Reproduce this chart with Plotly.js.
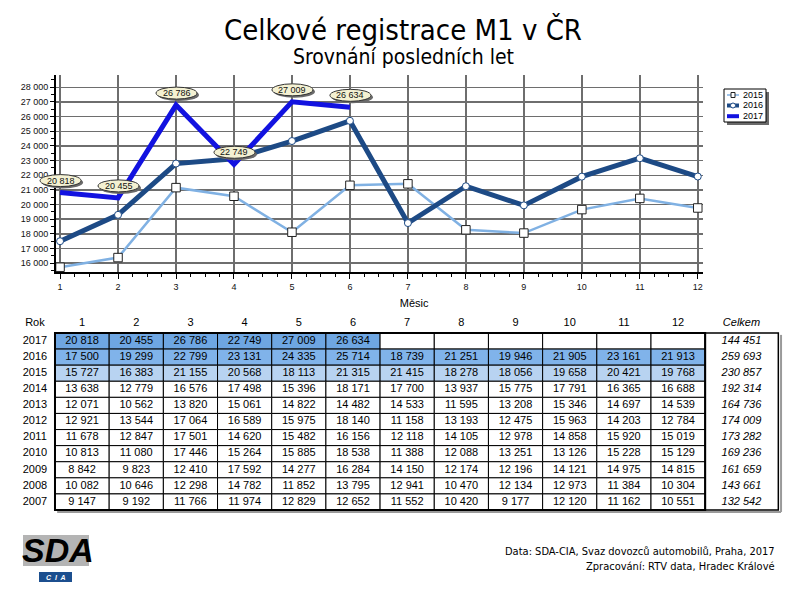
<!DOCTYPE html>
<html><head><meta charset="utf-8">
<script src="https://cdn.plot.ly/plotly-3.0.1.min.js"></script>
<style>html,body{margin:0;padding:0;background:#fff}#chart{width:800px;height:600px}</style>
</head><body><div id="chart"></div>
<script>
// ---------- DATA ----------
const months = [1,2,3,4,5,6,7,8,9,10,11,12];
const monthLabels = ['1','2','3','4','5','6','7','8','9','10','11','12'];
const years = [2017,2016,2015,2014,2013,2012,2011,2010,2009,2008,2007];
const seriesNames = ['2015','2016','2017'];
const v2017 = [20818,20455,26786,22749,27009,26634,null,null,null,null,null,null];
const v2016 = [17500,19299,22799,23131,24335,25714,18739,21251,19946,21905,23161,21913];
const v2015 = [15727,16383,21155,20568,18113,21315,21415,18278,18056,19658,20421,19768];
const v2014 = [13638,12779,16576,17498,15396,18171,17700,13937,15775,17791,16365,16688];
const v2013 = [12071,10562,13820,15061,14822,14482,14533,11595,13208,15346,14697,14539];
const v2012 = [12921,13544,17064,16589,15975,18140,11158,13193,12475,15963,14203,12784];
const v2011 = [11678,12847,17501,14620,15482,16156,12118,14105,12978,14858,15920,15019];
const v2010 = [10813,11080,17446,15264,15885,18538,11388,12088,13251,13126,15228,15129];
const v2009 = [8842,9823,12410,17592,14277,16284,14150,12174,12196,14121,14975,14815];
const v2008 = [10082,10646,12298,14782,11852,13795,12941,10470,12134,12973,11384,10304];
const v2007 = [9147,9192,11766,11974,12829,12652,11552,10420,9177,12120,11162,10551];
const totals = [144451,259693,230857,192314,164736,174009,173282,169236,161659,143661,132542];

// ---------- STYLE ----------
const SANS = 'Liberation Sans, Arial, sans-serif';
const NARROW = 'DejaVu Sans Condensed, Liberation Sans Narrow, sans-serif';
const rowFills = ['#6ea6e2', '#80b3ea', '#b8d3f1'];
const C2015 = '#80b1e3', C2016 = '#1d4a85', C2017 = '#1212e0';
const fmt = n => String(n).replace(/\B(?=(\d{3})+(?!\d))/g, ' ');
const rowsData = [v2017,v2016,v2015,v2014,v2013,v2012,v2011,v2010,v2009,v2008,v2007];

// main plot geometry (pixels) and an unclipped twin subplot with the identical scale
const PL = 56, PR = 703, XR0 = 0.93, XR1 = 12.09;
const YR = [15400, 28840];
const sx = (XR1 - XR0) / (PR - PL);
const x3range = [XR0 - PL * sx, XR0 + (800 - PL) * sx];

// ---------- CHART TRACES ----------
const traces = [
  {x: months, y: v2015, name: seriesNames[0], type: 'scatter', mode: 'lines+markers',
   line: {color: C2015, width: 2.5},
   marker: {symbol: 'square', size: 8.5, color: '#fff', line: {color: '#222', width: 1}},
   hoverinfo: 'skip', showlegend: false},
  {x: months, y: v2016, name: seriesNames[1], type: 'scatter', mode: 'lines+markers',
   line: {color: C2016, width: 5},
   marker: {symbol: 'circle', size: 7, color: '#fff', line: {color: C2016, width: 1}},
   hoverinfo: 'skip', showlegend: false},
  {x: months, y: v2017, name: seriesNames[2], type: 'scatter', mode: 'lines',
   line: {color: C2017, width: 5}, connectgaps: false, hoverinfo: 'skip', showlegend: false}
];

const shapes = [];
const annotations = [];

// ---------- 2017 value callouts (on twin subplot x3/y3 so they are not clipped) ----------
const lblX = [], lblY = [];
months.forEach((m, i) => {
  const v = v2017[i];
  if (v === null) return;
  shapes.push({type: 'circle', xref: 'x3', yref: 'y3', xsizemode: 'pixel', ysizemode: 'pixel',
    xanchor: m, yanchor: v, x0: -18, x1: 23, y0: 4, y1: 16, fillcolor: '#6a6a6a', line: {width: 0}});
  shapes.push({type: 'circle', xref: 'x3', yref: 'y3', xsizemode: 'pixel', ysizemode: 'pixel',
    xanchor: m, yanchor: v, x0: -20, x1: 21, y0: 6, y1: 18, fillcolor: '#f4f1d2', line: {color: '#333', width: 1}});
  annotations.push({x: m, y: v, xref: 'x3', yref: 'y3', text: fmt(v), showarrow: false, yshift: 12, xshift: 0.5,
    font: {family: SANS, size: 9, color: '#111'}});
  lblX.push(m); lblY.push(v);
});
traces.push({x: lblX, y: lblY, xaxis: 'x3', yaxis: 'y3', type: 'scatter', mode: 'markers',
  marker: {opacity: 0}, showlegend: false, hoverinfo: 'skip'});

// ---------- TABLE (on hidden axes x2/y2) ----------
const cellX = [], cellY = [], cellT = [];
rowsData.forEach((row, r) => {
  months.forEach((m, i) => {
    const has = row[i] !== null;
    shapes.push({type: 'rect', xref: 'x2', yref: 'y2', x0: m - 0.5, x1: m + 0.5, y0: r - 0.5, y1: r + 0.5,
      line: {color: '#000', width: 1}, fillcolor: (has && r < 3) ? rowFills[r] : '#ffffff', layer: 'below'});
    if (has) { cellX.push(m); cellY.push(r); cellT.push(fmt(row[i])); }
  });
});
shapes.push({type: 'line', xref: 'x2', yref: 'y2', x0: 13.9, x1: 13.9, y0: -0.38, y1: 10.62, line: {color: '#9a9a9a', width: 2}, layer: 'below'});
shapes.push({type: 'line', xref: 'x2', yref: 'y2', x0: 0.54, x1: 13.9, y0: 10.62, y1: 10.62, line: {color: '#9a9a9a', width: 2}, layer: 'below'});
shapes.push({type: 'rect', xref: 'x2', yref: 'y2', x0: 12.5, x1: 13.85, y0: -0.5, y1: 10.5, line: {color: '#000', width: 1.5}, fillcolor: '#fff', layer: 'below'});
shapes.push({type: 'rect', xref: 'x2', yref: 'y2', x0: 0.5, x1: 12.5, y0: -0.5, y1: 10.5, line: {color: '#000', width: 2}, layer: 'below'});

const tf = {family: SANS, size: 11, color: '#000'};
traces.push({x: cellX, y: cellY, text: cellT, xaxis: 'x2', yaxis: 'y2', type: 'scatter', mode: 'text',
  textfont: tf, showlegend: false, hoverinfo: 'skip'});
traces.push({x: years.map(() => 0.13), y: years.map((_, r) => r), text: years.map(String), xaxis: 'x2', yaxis: 'y2',
  type: 'scatter', mode: 'text', textfont: tf, showlegend: false, hoverinfo: 'skip'});
traces.push({x: totals.map(() => 13.17), y: totals.map((_, r) => r), text: totals.map(t => '<i>' + fmt(t) + '</i>'),
  xaxis: 'x2', yaxis: 'y2', type: 'scatter', mode: 'text', textfont: tf, showlegend: false, hoverinfo: 'skip'});
traces.push({x: [0.13].concat(months, [13.17]), y: Array(14).fill(-1.1),
  text: ['Rok'].concat(monthLabels, ['<i>Celkem</i>']), xaxis: 'x2', yaxis: 'y2', type: 'scatter', mode: 'text',
  textfont: tf, showlegend: false, hoverinfo: 'skip'});
traces.push({x: [7.13], y: [-2.3], text: ['Měsic'], xaxis: 'x2', yaxis: 'y2', type: 'scatter', mode: 'text',
  textfont: tf, showlegend: false, hoverinfo: 'skip'});

// ---------- custom compact legend (paper coords) ----------
const px = v => v / 800, py = v => 1 - v / 600;
shapes.push({type: 'rect', xref: 'paper', yref: 'paper', x0: px(727), x1: px(769), y0: py(125), y1: py(92), fillcolor: '#6a6a6a', line: {width: 0}});
shapes.push({type: 'rect', xref: 'paper', yref: 'paper', x0: px(724), x1: px(766), y0: py(122), y1: py(89), fillcolor: '#fff', line: {color: '#000', width: 1}});
const legY = [95, 105.5, 116.2];
const legColors = [C2015, C2016, C2017];
const legWidths = [1.5, 4, 4];
seriesNames.forEach((n, k) => {
  shapes.push({type: 'line', xref: 'paper', yref: 'paper', x0: px(727), x1: px(739), y0: py(legY[k]), y1: py(legY[k]),
    line: {color: legColors[k], width: legWidths[k]}});
  annotations.push({xref: 'paper', yref: 'paper', x: px(741), y: py(legY[k]), text: n, showarrow: false,
    xanchor: 'left', yanchor: 'middle', font: {family: SANS, size: 9, color: '#000'}});
});
shapes.push({type: 'rect', xref: 'paper', yref: 'paper', x0: px(731), x1: px(735), y0: py(97.5), y1: py(92.5), fillcolor: '#fff', line: {color: '#222', width: 1}});
shapes.push({type: 'circle', xref: 'paper', yref: 'paper', x0: px(730.5), x1: px(735.5), y0: py(108), y1: py(103), fillcolor: '#fff', line: {color: C2016, width: 1}});

// ---------- subtitle, footer, logo ----------
annotations.push({xref: 'paper', yref: 'paper', x: px(403), y: py(57), text: 'Srovnání posledních let',
  showarrow: false, font: {family: NARROW, size: 21, color: '#000'}, xanchor: 'center', yanchor: 'middle'});
annotations.push({xref: 'paper', yref: 'paper', x: px(777), y: py(551), text: 'Data: SDA-CIA, Svaz dovozců automobilů, Praha, 2017',
  showarrow: false, font: {family: NARROW, size: 11, color: '#000'}, xanchor: 'right', yanchor: 'middle'});
annotations.push({xref: 'paper', yref: 'paper', x: px(777), y: py(566), text: 'Zpracování: RTV data, Hradec Králové',
  showarrow: false, font: {family: NARROW, size: 11, color: '#000'}, xanchor: 'right', yanchor: 'middle'});
shapes.push({type: 'rect', xref: 'paper', yref: 'paper', x0: px(23), x1: px(89), y0: py(566), y1: py(535),
  fillcolor: '#b4b4b4', line: {width: 0}});
shapes.push({type: 'rect', xref: 'paper', yref: 'paper', x0: px(39), x1: px(72), y0: py(582), y1: py(572),
  fillcolor: '#1c4f8f', line: {width: 0}});
annotations.push({xref: 'paper', yref: 'paper', x: px(58), y: py(550), text: '<b><i>SDA</i></b>', showarrow: false,
  font: {family: SANS, size: 34, color: '#000'}, xanchor: 'center', yanchor: 'middle'});
annotations.push({xref: 'paper', yref: 'paper', x: px(55.5), y: py(577), text: '<b><i>C  I  A</i></b>', showarrow: false,
  font: {family: SANS, size: 7, color: '#fff'}, xanchor: 'center', yanchor: 'middle'});

// ---------- LAYOUT ----------
const layout = {
  width: 800, height: 600,
  margin: {l: 0, r: 0, t: 0, b: 0},
  paper_bgcolor: '#fff', plot_bgcolor: 'rgba(0,0,0,0)',
  separators: ', ',
  font: {family: SANS, color: '#000'},
  title: {text: 'Celkové registrace M1 v ČR', x: px(403), y: py(30), xanchor: 'center', yanchor: 'middle',
    font: {family: NARROW, size: 29, color: '#000'}},
  showlegend: false,
  xaxis: {domain: [px(PL), px(PR)], range: [XR0, XR1], tickmode: 'array', tickvals: months, ticktext: monthLabels,
    showgrid: true, gridcolor: '#6e6e6e', gridwidth: 1.5, zeroline: false,
    showline: true, linecolor: '#000', linewidth: 2, ticks: 'outside', ticklen: 5, tickcolor: '#000',
    tickfont: {family: SANS, size: 9, color: '#111'},
    minor: {tickmode: 'linear', tick0: 1, dtick: 0.25, ticks: 'outside', ticklen: 3, tickcolor: '#000', showgrid: false},
    fixedrange: true},
  yaxis: {domain: [py(272), py(75)], range: YR, tick0: 0, dtick: 1000, tickformat: ',d',
    showgrid: true, gridcolor: '#6e6e6e', gridwidth: 1.5, zeroline: false,
    showline: true, linecolor: '#000', linewidth: 2, ticks: 'outside', ticklen: 4, tickcolor: '#000',
    tickfont: {family: SANS, size: 9, color: '#111'},
    minor: {dtick: 500, ticks: 'outside', ticklen: 3, tickcolor: '#000', showgrid: false},
    fixedrange: true},
  xaxis3: {domain: [0, 1], range: x3range, visible: false, showgrid: false, fixedrange: true, anchor: 'y3'},
  yaxis3: {domain: [py(272), py(75)], range: YR, visible: false, showgrid: false, fixedrange: true, anchor: 'x3'},
  xaxis2: {domain: [0, 1], range: [-0.515, 14.25], visible: false, fixedrange: true, anchor: 'y2'},
  yaxis2: {domain: [py(520), py(290)], range: [11.12, -3.17], visible: false, fixedrange: true, anchor: 'x2'},
  shapes: shapes,
  annotations: annotations
};

Plotly.newPlot('chart', traces, layout, {staticPlot: true, displayModeBar: false});
</script>
</body></html>
